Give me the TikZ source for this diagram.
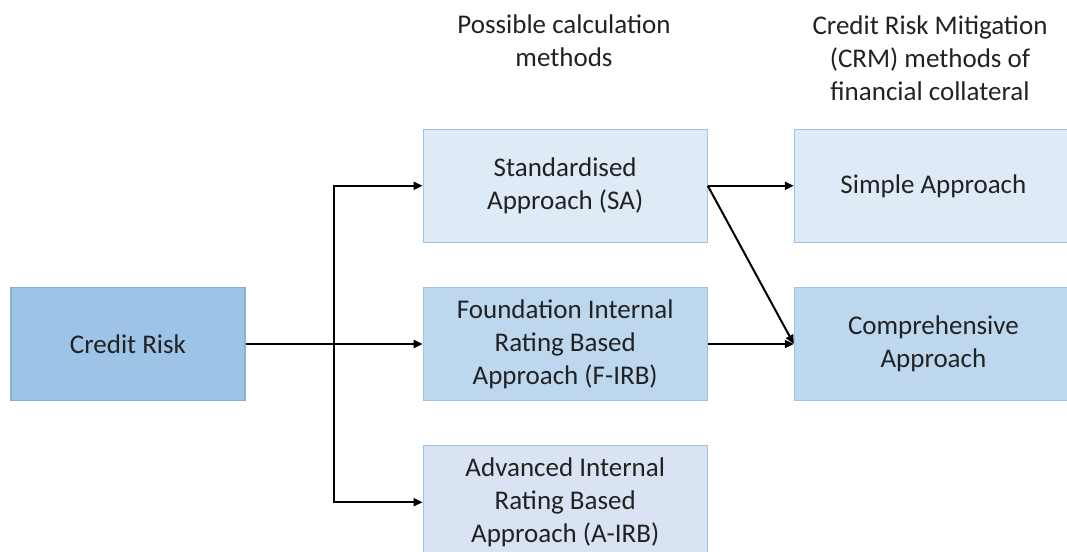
\documentclass[tikz,border=0pt]{standalone}
\usepackage{fontspec}
\setmainfont{Carlito}
\usepackage{xcolor}
\definecolor{ink}{HTML}{222222}
\definecolor{edge}{HTML}{9DC3E6}
\definecolor{deep}{HTML}{9DC3E6}
\definecolor{pale}{HTML}{DEEBF7}
\definecolor{mid}{HTML}{BDD7EE}
\definecolor{haze}{HTML}{DAE3F3}
\usepackage{tikz}
\usetikzlibrary{arrows.meta,positioning,calc}
\tikzset{
  >=Triangle,
  font=\fontsize{27}{33}\selectfont,
  box/.style={draw=edge,line width=1.2pt,align=center,inner sep=0pt,
              minimum height=113pt,text=ink},
  risk/.style={box,fill=deep,draw=deep!90!black,minimum width=234pt},
  method/.style={box,minimum width=284pt},
  crm/.style={box,minimum width=278pt},
  head/.style={align=center,text=ink,inner sep=0pt},
  flow/.style={-{Triangle[length=9pt,width=8pt]},line width=2pt,draw=black},
}
\begin{document}
\begin{tikzpicture}[x=1pt,y=-1pt]
  \useasboundingbox (0,0) rectangle (1067,551);
  \clip (0,0) rectangle (1067,551);

  \node[risk] (cr) at (128,344) {Credit Risk};
  \node[method,fill=mid,right=177pt of cr] (fi) {Foundation Internal\\Rating Based\\Approach (F-IRB)};
  \node[method,fill=pale,above=44pt of fi] (sa) {Standardised\\Approach (SA)};
  \node[method,fill=haze,below=44pt of fi] (ai) {Advanced Internal\\Rating Based\\Approach (A-IRB)};
  \node[crm,fill=mid,right=86pt of fi] (ca) {Comprehensive\\Approach};
  \node[crm,fill=pale,above=44pt of ca] (sp) {Simple Approach};

  \node[head] (h1) at (564,41) {Possible calculation\\methods};
  \node[head] (h2) at (930,58) {Credit Risk Mitigation\\(CRM) methods of\\financial collateral};

  \coordinate (jn) at ($(cr.east)!0.5!(fi.west)$);
  \draw[flow] (cr.east) -- (fi.west);
  \draw[flow] (jn) |- (sa.west);
  \draw[flow] (jn) |- (ai.west);
  \draw[flow] (sa.east) -- (sp.west);
  \draw[flow] (sa.east) -- (ca.west);
  \draw[flow] (fi.east) -- (ca.west);
\end{tikzpicture}
\end{document}
